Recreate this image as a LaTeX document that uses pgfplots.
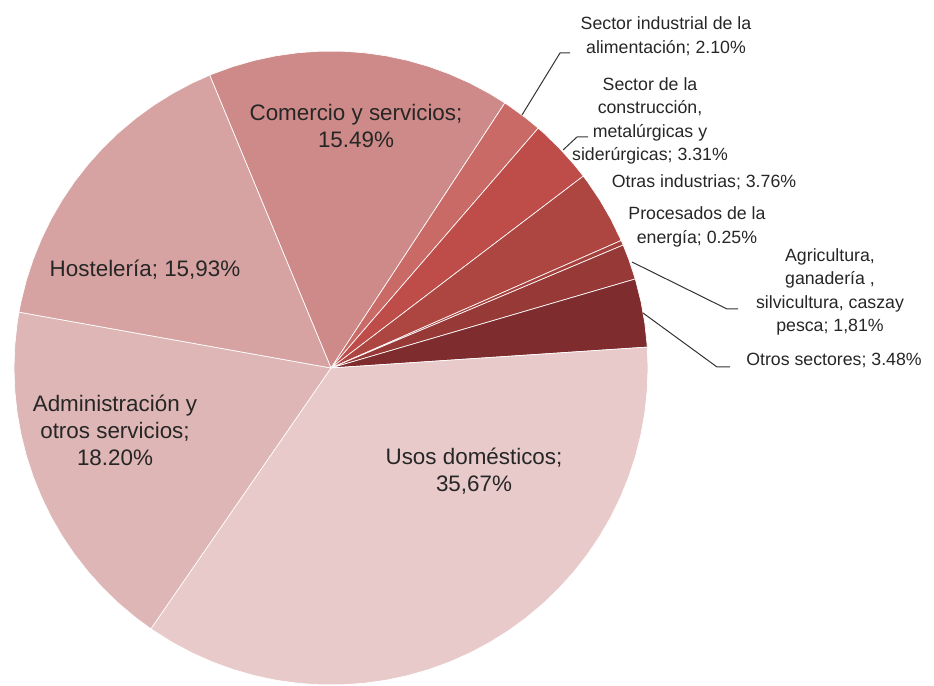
\documentclass[border=0pt]{standalone}
\usepackage{fontspec}
\setmainfont{Liberation Sans}
\usepackage{pgfplots}
\usepgfplotslibrary{polar}
\pgfplotsset{compat=1.18}

\definecolor{cComercio}{HTML}{CE8A88}
\definecolor{cAliment}{HTML}{C96A66}
\definecolor{cConstr}{HTML}{BE4D4A}
\definecolor{cOtrasInd}{HTML}{AD4541}
\definecolor{cEnergia}{HTML}{A6403D}
\definecolor{cAgric}{HTML}{963937}
\definecolor{cOtrosSec}{HTML}{7E2C2E}
\definecolor{cUsos}{HTML}{E8CACA}
\definecolor{cAdmin}{HTML}{DEB6B5}
\definecolor{cHostel}{HTML}{D6A3A2}
\definecolor{txt}{HTML}{262626}

\begin{document}
\begin{tikzpicture}
% pixel frame of the reference, pie centre at (331,368)
\begin{scope}[shift={(-248.25pt,276pt)}, x=0.75pt, y=-0.75pt]
\useasboundingbox (0,0) rectangle (934,684);
\end{scope}

% slices start at 112.5 deg and run clockwise; 1% = 3.6 deg
\begin{polaraxis}[
  at={(0,0)}, anchor=origin,
  hide axis, scale only axis,
  width=475.5pt, height=475.5pt,
  xmin=0, xmax=360, ymin=0, ymax=1,
  clip=false,
  every axis plot/.append style={draw=white, line width=0.5pt, mark=none},
]
% Comercio y servicios 15.49
\addplot[fill=cComercio] coordinates {(0,0) (56.736,1) (60,1) (64,1) (68,1) (72,1) (76,1) (80,1) (84,1) (88,1) (92,1) (96,1) (100,1) (104,1) (108,1) (112,1) (112.5,1) (0,0)};
% Sector industrial de la alimentacion 2.10
\addplot[fill=cAliment] coordinates {(0,0) (49.176,1) (52,1) (56,1) (56.736,1) (0,0)};
% Construccion, metalurgicas y siderurgicas 3.31
\addplot[fill=cConstr] coordinates {(0,0) (37.26,1) (40,1) (44,1) (48,1) (49.176,1) (0,0)};
% Otras industrias 3.76
\addplot[fill=cOtrasInd] coordinates {(0,0) (23.724,1) (28,1) (32,1) (36,1) (37.26,1) (0,0)};
% Procesados de la energia 0.25
\addplot[fill=cEnergia] coordinates {(0,0) (22.824,1) (23.724,1) (0,0)};
% Agricultura ... 1.81
\addplot[fill=cAgric] coordinates {(0,0) (16.308,1) (20,1) (22.824,1) (0,0)};
% Otros sectores 3.48
\addplot[fill=cOtrosSec] coordinates {(0,0) (3.78,1) (8,1) (12,1) (16,1) (16.308,1) (0,0)};
% Usos domesticos 35.67
\addplot[fill=cUsos] coordinates {(0,0) (-124.632,1) (-120,1) (-116,1) (-112,1) (-108,1) (-104,1) (-100,1) (-96,1) (-92,1) (-88,1) (-84,1) (-80,1) (-76,1) (-72,1) (-68,1) (-64,1) (-60,1) (-56,1) (-52,1) (-48,1) (-44,1) (-40,1) (-36,1) (-32,1) (-28,1) (-24,1) (-20,1) (-16,1) (-12,1) (-8,1) (-4,1) (0,1) (3.78,1) (0,0)};
% Administracion y otros servicios 18.20
\addplot[fill=cAdmin] coordinates {(0,0) (169.848,1) (172,1) (176,1) (180,1) (184,1) (188,1) (192,1) (196,1) (200,1) (204,1) (208,1) (212,1) (216,1) (220,1) (224,1) (228,1) (232,1) (235.368,1) (0,0)};
% Hosteleria 15.93
\addplot[fill=cHostel] coordinates {(0,0) (112.5,1) (116,1) (120,1) (124,1) (128,1) (132,1) (136,1) (140,1) (144,1) (148,1) (152,1) (156,1) (160,1) (164,1) (168,1) (169.848,1) (0,0)};
\end{polaraxis}

\begin{scope}[shift={(-248.25pt,276pt)}, x=0.75pt, y=-0.75pt]
% leader lines
\draw[black!80, line width=0.75pt] (522,115) -- (560,53) -- (570,53);
\draw[black!80, line width=0.75pt] (563,150) -- (577,137) -- (588,137);
\draw[black!80, line width=0.75pt] (632,262) -- (727,309) -- (738,309);
\draw[black!80, line width=0.75pt] (643,313) -- (717,367) -- (730,367);
% labels inside the pie
\begin{scope}[every node/.style={text=txt, font=\fontsize{16.8}{20.25}\selectfont, align=center, inner sep=0pt}]
\node at (356,126) {Comercio y servicios;\\15.49\%};
\node at (145,270) {Hostelería; 15,93\%};
\node at (115,430) {Administración y\\otros servicios;\\18.20\%};
\node at (474,471) {Usos domésticos;\\35,67\%};
\end{scope}
% labels outside the pie
\begin{scope}[every node/.style={text=txt, font=\fontsize{13.3}{17.6}\selectfont, align=center, inner sep=0pt}]
\node at (666,36) {Sector industrial de la\\alimentación; 2.10\%};
\node at (650,121) {Sector de la\\construcción,\\metalúrgicas y\\siderúrgicas; 3.31\%};
\node at (704,182) {Otras industrias; 3.76\%};
\node at (697,227) {Procesados de la\\energía; 0.25\%};
\node at (830,292) {Agricultura,\\ganadería ,\\silvicultura, caszay\\pesca; 1,81\%};
\node at (834,360) {Otros sectores; 3.48\%};
\end{scope}
\end{scope}
\end{tikzpicture}
\end{document}
